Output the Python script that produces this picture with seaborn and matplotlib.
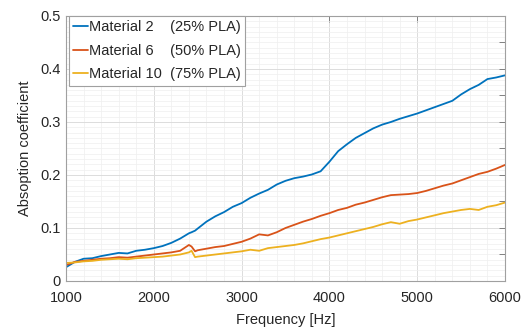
import numpy as np
import pandas as pd
import matplotlib
matplotlib.use("Agg")
import matplotlib.pyplot as plt
from matplotlib.ticker import MultipleLocator, FuncFormatter
import seaborn as sns

freq = [1000, 1100, 1200, 1300, 1400, 1500, 1600, 1700, 1800, 1900, 2000,
        2100, 2200, 2300, 2400, 2430, 2470, 2500, 2600, 2700, 2800, 2900,
        3000, 3100, 3200, 3300, 3400, 3500, 3600, 3700, 3800, 3900, 4000,
        4100, 4200, 4300, 4400, 4500, 4600, 4700, 4800, 4900, 5000, 5100,
        5200, 5300, 5400, 5500, 5600, 5700, 5800, 5900, 6000]

mat2 = [0.026, 0.036, 0.042, 0.043, 0.047, 0.050, 0.053, 0.052, 0.057, 0.059, 0.062,
        0.066, 0.072, 0.080, 0.090, 0.092, 0.095, 0.099, 0.112, 0.122, 0.130, 0.140,
        0.147, 0.157, 0.165, 0.172, 0.182, 0.189, 0.194, 0.197, 0.201, 0.207, 0.225,
        0.245, 0.258, 0.270, 0.279, 0.288, 0.295, 0.300, 0.306, 0.311, 0.316, 0.322,
        0.328, 0.334, 0.340, 0.352, 0.362, 0.370, 0.381, 0.384, 0.388]

mat6 = [0.030, 0.036, 0.038, 0.040, 0.042, 0.043, 0.045, 0.044, 0.046, 0.048, 0.050,
        0.052, 0.054, 0.057, 0.068, 0.065, 0.056, 0.058, 0.061, 0.064, 0.066, 0.070,
        0.074, 0.080, 0.088, 0.086, 0.092, 0.100, 0.106, 0.112, 0.117, 0.123, 0.128,
        0.134, 0.138, 0.144, 0.148, 0.153, 0.158, 0.162, 0.163, 0.164, 0.166, 0.170,
        0.175, 0.180, 0.184, 0.190, 0.196, 0.202, 0.206, 0.212, 0.219]

mat10 = [0.034, 0.035, 0.037, 0.038, 0.040, 0.041, 0.042, 0.041, 0.043, 0.044, 0.045,
         0.046, 0.048, 0.050, 0.054, 0.057, 0.045, 0.046, 0.048, 0.050, 0.052, 0.054,
         0.056, 0.059, 0.057, 0.062, 0.064, 0.066, 0.068, 0.071, 0.075, 0.079, 0.082,
         0.086, 0.090, 0.094, 0.098, 0.102, 0.107, 0.111, 0.108, 0.113, 0.116, 0.120,
         0.124, 0.128, 0.131, 0.134, 0.136, 0.134, 0.140, 0.143, 0.148]

labels = ["Material 2    (25% PLA)",
          "Material 6    (50% PLA)",
          "Material 10  (75% PLA)"]
colors = ["#0072BD", "#D95319", "#EDB120"]

df = pd.concat([
    pd.DataFrame({"freq": freq, "alpha": vals, "series": lab})
    for vals, lab in zip([mat2, mat6, mat10], labels)
])

sns.set_style("white")
plt.rcParams["font.family"] = ["Liberation Sans", "DejaVu Sans"]

fig = plt.figure(figsize=(5.23, 3.29), dpi=100)
ax = fig.add_axes([0.1262, 0.1459, 0.8394, 0.8055])

sns.lineplot(data=df, x="freq", y="alpha", hue="series", palette=colors,
             linewidth=1.3, ax=ax, legend=True)

ax.set_xlim(1000, 6000)
ax.set_ylim(0, 0.5)
ax.xaxis.set_major_locator(MultipleLocator(1000))
ax.xaxis.set_minor_locator(MultipleLocator(200))
ax.yaxis.set_major_locator(MultipleLocator(0.05))
ax.yaxis.set_minor_locator(MultipleLocator(0.01))

def yfmt(v, pos):
    k = int(round(v * 100))
    if k % 10 != 0:
        return ""
    if k == 0:
        return "0"
    return f"{v:.1f}"

ax.yaxis.set_major_formatter(FuncFormatter(yfmt))

ax.grid(True, which="major", color="#dcdcdc", linewidth=0.7)
ax.grid(True, which="minor", color="#efefef", linewidth=0.5)
ax.set_axisbelow(True)

fig.canvas.draw()
for t, loc in zip(ax.yaxis.get_major_ticks(), ax.get_yticks()):
    k = int(round(loc * 100))
    if k % 10 != 0:
        t.gridline.set_color("#efefef")
        t.gridline.set_linewidth(0.5)

ax.tick_params(which="major", direction="in", length=4, width=0.7,
               color="#808080", top=True, right=True,
               labelsize=10.5, labelcolor="#262626", pad=4)
ax.tick_params(axis="x", which="major", pad=7)
ax.tick_params(which="minor", length=0, top=True, right=True)

for s in ax.spines.values():
    s.set_visible(True)
    s.set_color("#a0a0a0")
    s.set_linewidth(0.8)

ax.set_xlabel("Frequency [Hz]", fontsize=10.5, color="#262626", labelpad=6)
ax.set_ylabel("Absoption coefficient", fontsize=10.5, color="#262626", labelpad=6)

leg = ax.legend(loc="upper left", bbox_to_anchor=(0.006, 1.0), borderaxespad=0,
                fontsize=10.5, handlelength=1.0, handletextpad=0.1,
                labelspacing=0.65, borderpad=0.3, frameon=True, fancybox=False,
                framealpha=1.0)
leg.get_frame().set_edgecolor("#a0a0a0")
leg.get_frame().set_linewidth(0.8)
for txt in leg.get_texts():
    txt.set_color("#262626")

fig.savefig("out.png", dpi=100)
